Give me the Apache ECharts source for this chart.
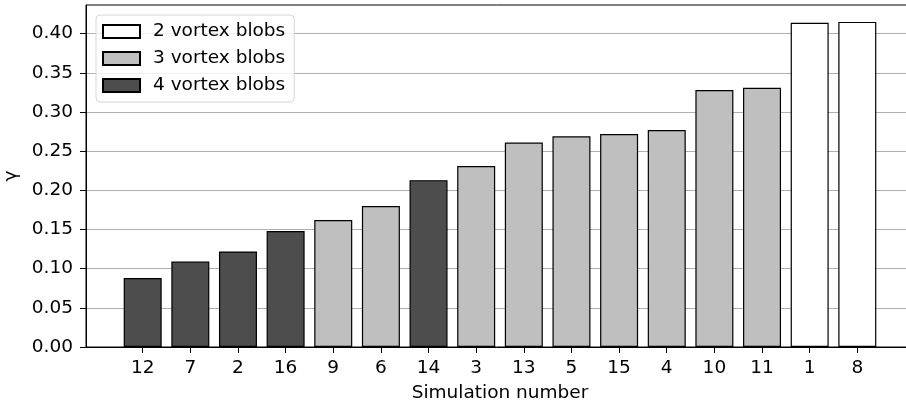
<!DOCTYPE html>
<html>
<head>
<meta charset="utf-8">
<script src="https://cdn.jsdelivr.net/npm/echarts@6/dist/echarts.min.js"></script>
<style>
  html, body { margin: 0; padding: 0; background: #fff; }
  #chart { width: 906px; height: 404px; }
</style>
</head>
<body>
<div id="chart"></div>
<script>
// simulation numbers, sorted by gamma
const sims = ['12', '7', '2', '16', '9', '6', '14', '3', '13', '5', '15', '4', '10', '11', '1', '8']
const gamma = [0.088, 0.109, 0.122, 0.148, 0.162, 0.180, 0.213, 0.231, 0.261, 0.269, 0.272, 0.277, 0.328, 0.331, 0.414, 0.415]
// number of vortex blobs per simulation
const blobs = [4, 4, 4, 4, 3, 3, 4, 3, 3, 3, 3, 3, 3, 3, 2, 2]
const groups = [
  { n: 2, name: '2 vortex blobs', color: '#ffffff' },
  { n: 3, name: '3 vortex blobs', color: '#bfbfbf' },
  { n: 4, name: '4 vortex blobs', color: '#4d4d4d' }
]
const yTicks = [0, 0.05, 0.1, 0.15, 0.2, 0.25, 0.3, 0.35, 0.4]

const font = 'DejaVu Sans'
const fs = 18.5
const idx = sims.map((s, i) => i)

const chart = echarts.init(document.getElementById('chart'))

const series = groups.map(g => {
  let data = []
  gamma.forEach((v, i) => {
    if (blobs[i] === g.n) data.push([i, v])
  })
  return {
    name: g.name,
    type: 'bar',
    barWidth: 38,
    barGap: '-100%',
    data: data,
    itemStyle: { color: g.color, borderColor: '#000', borderWidth: 1.2 },
    emphasis: { disabled: true }
  }
})

chart.setOption({
  animation: false,
  textStyle: { fontFamily: font },
  grid: {
    left: 86, width: 828, top: 5, height: 342,
    outerBoundsMode: 'none',
    containLabel: false,
    show: true, borderColor: '#000', borderWidth: 1, backgroundColor: 'transparent'
  },
  legend: {
    left: 96, top: 15,
    orient: 'vertical',
    icon: 'rect',
    itemWidth: 37, itemHeight: 13, itemGap: 8,
    padding: [7, 9, 7, 6],
    borderColor: '#d6d6d6', borderWidth: 1, borderRadius: 4,
    backgroundColor: 'rgba(255,255,255,0.8)',
    textStyle: { fontFamily: font, fontSize: fs, color: '#000', padding: [0, 0, 0, 8] },
    data: groups.map(g => g.name)
  },
  xAxis: {
    type: 'value',
    min: -1.19, max: 16.19,
    name: 'Simulation number',
    nameLocation: 'middle',
    nameGap: 37,
    nameTextStyle: { fontFamily: font, fontSize: fs, color: '#000' },
    splitLine: { show: false },
    axisLine: { show: true, onZero: false, lineStyle: { color: '#000', width: 1 } },
    axisTick: { show: true, length: 6, customValues: idx, lineStyle: { color: '#000' } },
    axisLabel: {
      customValues: idx,
      margin: 12,
      fontFamily: font, fontSize: fs, color: '#000',
      formatter: v => sims[Math.round(v)]
    }
  },
  yAxis: {
    type: 'value',
    min: 0, max: 0.4366, interval: 0.05,
    name: 'γ',
    nameLocation: 'middle',
    nameGap: 64,
    nameTextStyle: { fontFamily: font, fontSize: fs, color: '#000' },
    axisLine: { show: true, onZero: false, lineStyle: { color: '#000', width: 1 } },
    axisTick: { show: true, length: 6, customValues: yTicks, lineStyle: { color: '#000' } },
    axisLabel: {
      customValues: yTicks,
      margin: 13,
      fontFamily: font, fontSize: fs, color: '#000',
      formatter: v => v.toFixed(2)
    },
    splitLine: { show: true, lineStyle: { color: '#b0b0b0', width: 1.2 } }
  },
  series: series
})
</script>
</body>
</html>
